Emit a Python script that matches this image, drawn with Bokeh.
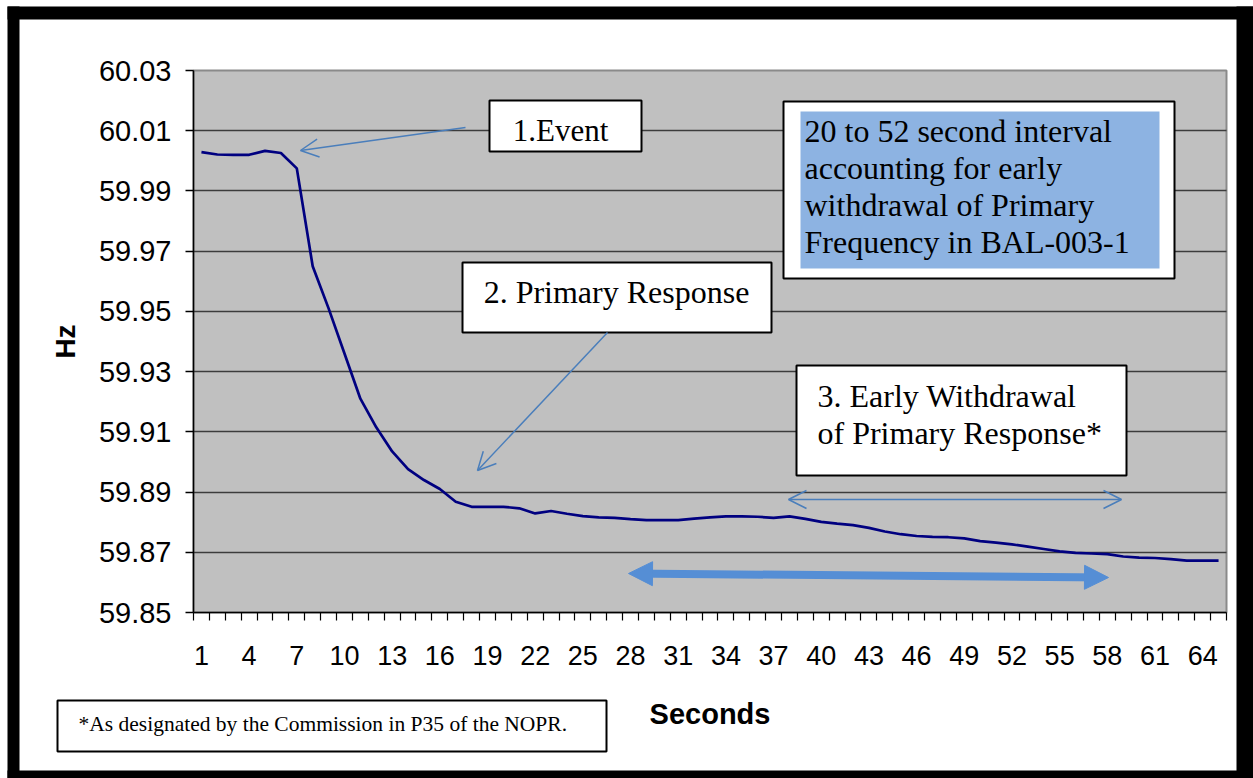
from bokeh.plotting import figure
from bokeh.models import (Range1d, FixedTicker, PrintfTickFormatter, BoxAnnotation, LinearAxis, Grid,
                          Label, Arrow, OpenHead, NormalHead)
from bokeh.embed import file_html
from bokeh.resources import INLINE

# ---------------- data ----------------
seconds = [1, 2, 3, 4, 5, 6, 7, 8, 9, 10, 11, 12, 13, 14, 15, 16, 17, 18, 19, 20,
           21, 22, 23, 24, 25, 26, 27, 28, 29, 30, 31, 32, 33, 34, 35, 36, 37, 38, 39, 40,
           41, 42, 43, 44, 45, 46, 47, 48, 49, 50, 51, 52, 53, 54, 55, 56, 57, 58, 59, 60,
           61, 62, 63, 64, 65]
hz = [60.0029, 60.0021, 60.0020, 60.0020, 60.0033, 60.0026, 59.9975, 59.9650, 59.9510, 59.9360,
      59.9210, 59.9115, 59.9035, 59.8976, 59.8940, 59.8910, 59.8868, 59.8851, 59.8851, 59.8851,
      59.8846, 59.8829, 59.8837, 59.8828, 59.8820, 59.8816, 59.8814, 59.8810, 59.8807, 59.8807,
      59.8807, 59.8812, 59.8816, 59.8819, 59.8819, 59.8818, 59.8814, 59.8819, 59.8811, 59.8801,
      59.8795, 59.8790, 59.8781, 59.8769, 59.8760, 59.8754, 59.8751, 59.8750, 59.8746, 59.8737,
      59.8732, 59.8726, 59.8719, 59.8711, 59.8703, 59.8698, 59.8696, 59.8694, 59.8686, 59.8682,
      59.8681, 59.8677, 59.8672, 59.8672, 59.8672]
x_tick_labels = [1, 4, 7, 10, 13, 16, 19, 22, 25, 28, 31, 34, 37, 40, 43, 46, 49, 52, 55, 58, 61, 64]
y_ticks = [59.85, 59.87, 59.89, 59.91, 59.93, 59.95, 59.97, 59.99, 60.01, 60.03]
grid_levels = [59.87, 59.89, 59.91, 59.93, 59.95, 59.97, 59.99, 60.01]

# ---------------- layout ----------------
W, H = 1253, 778
FL, FR, FT, FB = 193, 1226, 70, 612      # grey plot area, canvas pixels
X0, X1 = 0.5, 65.5
Y0, Y1 = 59.85, 60.03
SX = (X1 - X0) / (FR - FL)
SY = (Y1 - Y0) / (FB - FT)


def dx(px):
    return X0 + (px - FL) * SX


def dy(py):
    return Y1 - (py - FT) * SY


p = figure(width=W, height=H,
           x_range=Range1d(dx(0), dx(W)), y_range=Range1d(dy(H), dy(0)),
           x_axis_type=None, y_axis_type=None,
           output_backend="svg", toolbar_location=None,
           min_border=0, min_border_left=0, min_border_right=0, min_border_top=0, min_border_bottom=0,
           background_fill_color="white", border_fill_color="white")
p.outline_line_color = None
p.xgrid.visible = False
p.ygrid.visible = False

# grey plot area
p.add_layout(BoxAnnotation(left=X0, right=X1, bottom=Y0, top=Y1, level="underlay",
                           fill_color="#c0c0c0", fill_alpha=1.0,
                           line_color="#8a8a8a", line_alpha=1.0, line_width=2))

# horizontal grid lines
g = Grid(dimension=1, ticker=FixedTicker(ticks=grid_levels),
         grid_line_color="#3c3c3c", grid_line_width=1.6)
if "cross_bounds" in Grid.properties():
    g.cross_bounds = (X0, X1)
    p.add_layout(g)
else:
    p.segment(x0=[X0] * len(grid_levels), x1=[X1] * len(grid_levels),
              y0=grid_levels, y1=grid_levels, line_color="#3c3c3c", line_width=1.6)

p.line(seconds, hz, line_color="#000080", line_width=2.7)

# axes
SANS = "Liberation Sans"
yax = LinearAxis(fixed_location=X0, bounds=(Y0, Y1))
yax.ticker = FixedTicker(ticks=y_ticks)
yax.formatter = PrintfTickFormatter(format="%.2f")
yax.major_label_text_font = SANS
yax.major_label_text_font_size = "29px"
yax.major_label_text_color = "black"
yax.major_tick_out = 8
yax.major_tick_in = 0
yax.minor_tick_line_color = None
yax.major_label_standoff = 14
yax.axis_line_color = "black"
yax.axis_line_width = 1.5
yax.major_tick_line_width = 1.5
yax.axis_label = "Hz"
yax.axis_label_text_font = SANS
yax.axis_label_text_font_style = "bold"
yax.axis_label_text_font_size = "28px"
yax.axis_label_text_color = "black"
yax.axis_label_standoff = 15
p.add_layout(yax, "left")

xax = LinearAxis(fixed_location=Y0, bounds=(X0, X1))
bounds = [k + 0.5 for k in range(0, 66)]
xax.ticker = FixedTicker(ticks=x_tick_labels, minor_ticks=bounds)
xax.major_label_text_font = SANS
xax.major_label_text_font_size = "27px"
xax.major_label_text_color = "black"
xax.major_tick_out = 0
xax.major_tick_in = 0
xax.minor_tick_out = 8
xax.minor_tick_in = 0
xax.minor_tick_line_color = "black"
xax.minor_tick_line_width = 1.2
xax.major_label_standoff = 25
xax.axis_line_color = "black"
xax.axis_line_width = 1.5
xax.axis_label = "Seconds"
xax.axis_label_text_font = SANS
xax.axis_label_text_font_style = "bold"
xax.axis_label_text_font_size = "29px"
xax.axis_label_text_color = "black"
xax.axis_label_standoff = 30
p.add_layout(xax, "below")

SERIF = "Liberation Serif"
BLUE_LINE = "#4a7ebb"
BASE_FIX = 0.32   # em shift so that y is the visible baseline


def box(l, t, r, b, fill="white", lw=2, lc="black"):
    p.add_layout(BoxAnnotation(left=dx(l), right=dx(r), top=dy(t), bottom=dy(b),
                               fill_color=fill, fill_alpha=1.0,
                               line_color=lc if lc else "black", line_alpha=1.0 if lc else 0,
                               line_width=lw))


def label(text, px, py, align="left", size=32, font=SERIF):
    p.add_layout(Label(x=dx(px), y=dy(py - BASE_FIX * size), text=text, text_font=font,
                       text_font_size=f"{size}px",
                       text_align=align, text_baseline="alphabetic", text_color="black"))


# 1. Event
box(489, 100, 641, 151)
label("1.Event", 560, 140, align="center", size=31)
p.add_layout(Arrow(x_start=dx(465), y_start=dy(127), x_end=dx(300), y_end=dy(150),
                   line_color=BLUE_LINE, line_width=1.5,
                   end=OpenHead(size=18, line_color=BLUE_LINE, line_width=1.5)))

# 2. Primary response
box(462, 262, 771, 332)
label("2. Primary Response", 616, 302, align="center", size=32)
p.add_layout(Arrow(x_start=dx(607), y_start=dy(332), x_end=dx(477), y_end=dy(470),
                   line_color=BLUE_LINE, line_width=1.5,
                   end=OpenHead(size=18, line_color=BLUE_LINE, line_width=1.5)))

# 3. Early withdrawal
box(796, 365, 1126, 475)
label("3. Early Withdrawal", 817, 406)
label("of Primary Response*", 817, 443)
p.add_layout(Arrow(x_start=dx(788), y_start=dy(499), x_end=dx(1121), y_end=dy(499),
                   line_color=BLUE_LINE, line_width=1.5,
                   start=OpenHead(size=18, line_color=BLUE_LINE, line_width=1.5),
                   end=OpenHead(size=18, line_color=BLUE_LINE, line_width=1.5)))

# blue note
box(783, 101, 1174, 278)
box(800, 111, 1159, 268, fill="#8db3e2", lw=0, lc=None)
label("20 to 52 second interval", 804, 141)
label("accounting for early", 804, 178)
label("withdrawal of Primary", 804, 215)
label("Frequency in BAL-003-1", 804, 252)

# thick double arrow
THICK = "#558ed5"
p.add_layout(Arrow(x_start=dx(628), y_start=dy(573), x_end=dx(1108), y_end=dy(577),
                   line_color=THICK, line_width=8,
                   start=NormalHead(size=24, fill_color=THICK, line_color=THICK, line_width=1),
                   end=NormalHead(size=24, fill_color=THICK, line_color=THICK, line_width=1)))

# footnote
box(57, 700, 606, 751)
label("*As designated by the Commission in P35 of the NOPR.", 78, 730, size=21.5)

# outer black frame
for (l, t, r, b) in [(7, 6, 19, 778), (7, 6, 1253, 19), (1236, 6, 1253, 778), (7, 770, 1253, 778)]:
    box(l, t, r, b, fill="black", lw=0, lc=None)

open("out.html", "w").write(file_html(p, INLINE))
